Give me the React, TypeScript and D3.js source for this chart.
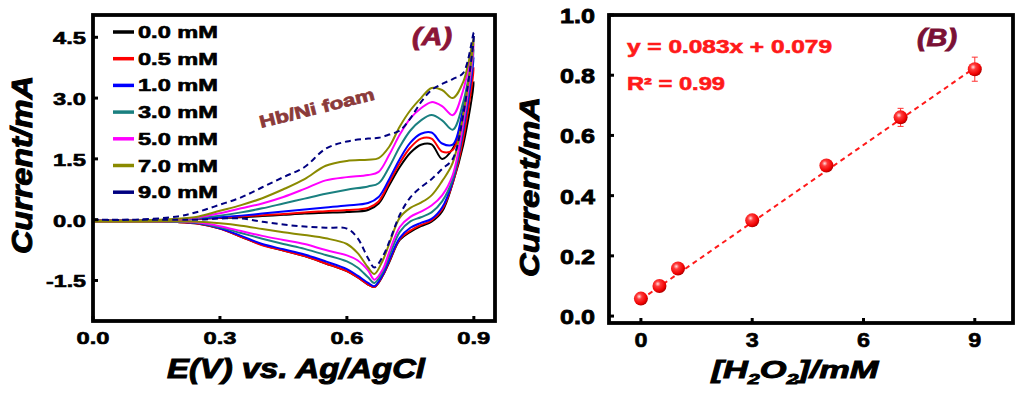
import React from "react";
import * as d3 from "d3";

// ---------- panel A: cyclic voltammograms of Hb/Ni foam ----------
// forward (anodic) sweep potentials and reverse (cathodic) sweep potentials, V
const fwdPotential = [0, 0.1, 0.2, 0.25, 0.3, 0.35, 0.4, 0.45, 0.5, 0.55, 0.6, 0.65, 0.675, 0.7, 0.725, 0.75, 0.775, 0.8, 0.825, 0.85, 0.875, 0.9];
const revPotential = [0.9, 0.875, 0.85, 0.825, 0.8, 0.775, 0.75, 0.725, 0.7, 0.685, 0.665, 0.65, 0.625, 0.6, 0.55, 0.5, 0.45, 0.4, 0.35, 0.3, 0.25, 0.2, 0.1, 0];

// currents (mA)
const fwd00 = [-0.02, -0.02, 0, 0.02, 0.04, 0.06, 0.09, 0.12, 0.15, 0.17, 0.19, 0.24, 0.4, 0.85, 1.3, 1.65, 1.85, 1.86, 1.5, 1.75, 2.45, 3.4];
const fwd05 = [-0.02, -0.02, 0, 0.02, 0.05, 0.08, 0.11, 0.14, 0.18, 0.21, 0.24, 0.29, 0.45, 0.92, 1.4, 1.78, 2.0, 2.0, 1.68, 1.72, 2.6, 3.75];
const fwd10 = [-0.02, -0.02, 0, 0.03, 0.06, 0.1, 0.15, 0.2, 0.25, 0.3, 0.35, 0.41, 0.56, 1.0, 1.5, 1.9, 2.12, 2.15, 1.88, 1.85, 2.75, 4.0];
const fwd30 = [-0.02, -0.02, 0, 0.04, 0.1, 0.18, 0.28, 0.4, 0.52, 0.64, 0.74, 0.82, 0.9, 1.3, 1.8, 2.2, 2.45, 2.58, 2.45, 2.22, 2.9, 4.2];
const fwd50 = [-0.02, -0.02, 0, 0.06, 0.16, 0.28, 0.4, 0.56, 0.76, 0.97, 1.05, 1.1, 1.18, 1.6, 2.1, 2.5, 2.75, 2.9, 2.8, 2.58, 3.2, 4.35];
const fwd70 = [-0.02, -0.02, 0.02, 0.08, 0.22, 0.36, 0.53, 0.75, 1.0, 1.33, 1.45, 1.48, 1.52, 1.8, 2.3, 2.7, 3.0, 3.25, 3.2, 3.0, 3.4, 4.5];
const fwd90 = [0, 0, 0.08, 0.2, 0.37, 0.55, 0.8, 1.05, 1.3, 1.75, 1.93, 2.0, 2.02, 2.1, 2.2, 2.5, 2.9, 3.2, 3.35, 3.47, 3.62, 4.62];

const rev00 = [3.4, 1.85, 0.9, 0.2, -0.05, -0.16, -0.3, -0.5, -1.05, -1.38, -1.66, -1.6, -1.42, -1.27, -1.08, -0.9, -0.76, -0.62, -0.42, -0.22, -0.1, -0.06, -0.05, -0.05];
const rev05 = [3.75, 2.0, 0.9, 0.25, -0.02, -0.13, -0.27, -0.48, -1.03, -1.37, -1.66, -1.6, -1.42, -1.27, -1.08, -0.9, -0.76, -0.63, -0.42, -0.22, -0.1, -0.06, -0.05, -0.05];
const rev10 = [4.0, 2.2, 0.95, 0.3, 0.02, -0.08, -0.2, -0.45, -1.0, -1.35, -1.64, -1.56, -1.38, -1.22, -1.03, -0.86, -0.73, -0.6, -0.4, -0.21, -0.09, -0.05, -0.05, -0.05];
const rev30 = [4.2, 2.3, 1.0, 0.45, 0.18, 0.06, -0.04, -0.3, -0.9, -1.28, -1.56, -1.42, -1.18, -1.03, -0.87, -0.72, -0.6, -0.47, -0.33, -0.19, -0.08, -0.05, -0.05, -0.05];
const rev50 = [4.35, 2.4, 1.1, 0.6, 0.35, 0.2, 0.07, -0.18, -0.8, -1.22, -1.48, -1.25, -1.0, -0.88, -0.75, -0.6, -0.5, -0.4, -0.28, -0.16, -0.07, -0.04, -0.05, -0.05];
const rev70 = [4.5, 2.6, 1.4, 0.95, 0.6, 0.42, 0.29, 0.05, -0.6, -1.0, -1.34, -1.18, -0.82, -0.6, -0.46, -0.38, -0.31, -0.23, -0.15, -0.09, -0.05, -0.04, -0.05, -0.05];
const rev90 = [4.62, 2.6, 1.5, 1.25, 1.0, 0.8, 0.55, 0.12, -0.55, -0.9, -1.18, -0.95, -0.45, -0.22, -0.2, -0.17, -0.12, -0.05, 0.03, 0.03, 0, 0, 0, 0];

const concLabels = ["0.0 mM", "0.5 mM", "1.0 mM", "3.0 mM", "5.0 mM", "7.0 mM", "9.0 mM"];
const cvColors = ["#000000", "#ff0000", "#0000ff", "#1a8080", "#ff00ff", "#8a8a00", "#000080"];

const cvXTicks = [0, 0.3, 0.6, 0.9];
const cvYTicks = [-1.5, 0, 1.5, 3.0, 4.5];

// ---------- panel B: calibration ----------
const h2o2Conc = [0, 0.5, 1, 3, 5, 7, 9];
const peakCurrent = [0.058, 0.1, 0.158, 0.318, 0.5, 0.66, 0.82];
const currentErr = [0.008, 0.008, 0.01, 0.01, 0.012, 0.03, 0.04];
const fitConc = [0, 9];
const fitCurrent = [0.055, 0.825];

const calXTicks = [0, 3, 6, 9];
const calYTicks = [0, 0.2, 0.4, 0.6, 0.8, 1.0];

const FONT = '"Liberation Sans", Arial, sans-serif';

export default function App() {
  const A = { left: 93, right: 495, top: 15, bottom: 321 };
  const B = { left: 609, right: 1013, top: 15, bottom: 323 };

  const xA = d3.scaleLinear().domain([0, 0.95]).range([A.left, A.right]);
  const yA = d3.scaleLinear().domain([-2.5, 5.05]).range([A.bottom, A.top]);
  const xB = d3.scaleLinear().domain([-0.86, 10.03]).range([B.left, B.right]);
  const yB = d3.scaleLinear().domain([-0.023, 1.0]).range([B.bottom, B.top]);

  const fwd = [fwd00, fwd05, fwd10, fwd30, fwd50, fwd70, fwd90];
  const rev = [rev00, rev05, rev10, rev30, rev50, rev70, rev90];

  // one closed loop per concentration: forward sweep then back
  const cvLine = d3.line<[number, number]>()
    .x(d => xA(d[0]))
    .y(d => yA(d[1]))
    .curve(d3.curveCatmullRom.alpha(0.5));

  const loops = concLabels.map((label, i) => {
    const pts: [number, number][] = fwdPotential.map((e, j) => [e, fwd[i][j]]);
    revPotential.slice(1).forEach((e, j) => pts.push([e, rev[i][j + 1]]));
    return { label, color: cvColors[i], d: cvLine(pts) || "", dashed: i === concLabels.length - 1 };
  });

  const fitLine = d3.line<number>()
    .x(d => xB(d))
    .y((d, i) => yB(fitCurrent[i]));

  const bold = { fontFamily: FONT, fontWeight: 700 } as const;
  // the source figure uses a very heavy face, thicken glyphs a bit
  const heavy = (c: string, w: number) => ({ stroke: c, strokeWidth: w, paintOrder: "stroke" as const });

  return (
    <svg width={1024} height={396} style={{ position: "absolute", left: 0, top: 0, background: "#fff" }}>
      <defs>
        <radialGradient id="ball" cx="38%" cy="35%" r="65%">
          <stop offset="0%" stopColor="#ffe0e0" />
          <stop offset="30%" stopColor="#ff3a3a" />
          <stop offset="80%" stopColor="#f00000" />
          <stop offset="100%" stopColor="#b00000" />
        </radialGradient>
      </defs>

      {/* ---------------- panel A ---------------- */}
      {loops.map(l => (
        <path key={l.label} d={l.d} fill="none" stroke={l.color} strokeWidth={2}
          strokeDasharray={l.dashed ? "6,4" : undefined} strokeLinejoin="round" />
      ))}

      <rect x={A.left} y={A.top} width={A.right - A.left} height={A.bottom - A.top}
        fill="none" stroke="#000" strokeWidth={3.8} />

      {cvXTicks.map(t => (
        <g key={"ax" + t}>
          <line x1={xA(t)} x2={xA(t)} y1={A.bottom} y2={A.bottom - 5} stroke="#000" strokeWidth={3} />
          <text x={xA(t)} y={343.5} textAnchor="middle" fontSize={17} textLength={33}
            lengthAdjust="spacingAndGlyphs" {...bold} {...heavy("#000", 0.6)}>{t.toFixed(1)}</text>
        </g>
      ))}
      {cvYTicks.map(t => (
        <g key={"ay" + t}>
          <line x1={A.left} x2={A.left + 5} y1={yA(t)} y2={yA(t)} stroke="#000" strokeWidth={3} />
          <text x={86} y={yA(t) + 7} textAnchor="end" fontSize={17} textLength={t < 0 ? 40 : 33}
            lengthAdjust="spacingAndGlyphs" {...bold} {...heavy("#000", 0.6)}>{t.toFixed(1)}</text>
        </g>
      ))}

      <text transform="translate(32,165) rotate(-90)" textAnchor="middle" fontSize={30} fontStyle="italic"
        textLength={178} lengthAdjust="spacingAndGlyphs" {...bold} {...heavy("#000", 1)}>Current/mA</text>
      <text x={296} y={378} textAnchor="middle" fontSize={28} fontStyle="italic"
        textLength={258} lengthAdjust="spacingAndGlyphs" {...bold} {...heavy("#000", 1)}>E(V) vs. Ag/AgCl</text>

      {/* legend */}
      {loops.map((l, i) => {
        const y = 32 + i * 26.7;
        return (
          <g key={"lg" + l.label}>
            <line x1={113} x2={134} y1={y} y2={y} stroke={l.color} strokeWidth={3.5} />
            <text x={138} y={y + 6} fontSize={16.5} textLength={80} lengthAdjust="spacingAndGlyphs"
              {...bold} {...heavy("#000", 0.6)}>{l.label}</text>
          </g>
        );
      })}

      <text transform="translate(261,128) rotate(-14)" fontSize={17} fill="#8b3a3a"
        textLength={118} lengthAdjust="spacingAndGlyphs" {...bold} {...heavy("#8b3a3a", 0.7)}>Hb/Ni foam</text>
      <text x={412} y={45} fontSize={23} fontStyle="italic" fill="#8b1538"
        textLength={40} lengthAdjust="spacingAndGlyphs" {...bold} {...heavy("#8b1538", 0.8)}>(A)</text>

      {/* ---------------- panel B ---------------- */}
      <path d={fitLine(fitConc) || ""} fill="none" stroke="#ff1a1a" strokeWidth={2} strokeDasharray="5,4" />

      {h2o2Conc.map((c, i) => (
        <g key={"pt" + c}>
          <line x1={xB(c)} x2={xB(c)} y1={yB(peakCurrent[i] - currentErr[i])} y2={yB(peakCurrent[i] + currentErr[i])}
            stroke="#ff3030" strokeWidth={1} />
          <line x1={xB(c) - 3} x2={xB(c) + 3} y1={yB(peakCurrent[i] + currentErr[i])} y2={yB(peakCurrent[i] + currentErr[i])}
            stroke="#ff3030" strokeWidth={1} />
          <line x1={xB(c) - 3} x2={xB(c) + 3} y1={yB(peakCurrent[i] - currentErr[i])} y2={yB(peakCurrent[i] - currentErr[i])}
            stroke="#ff3030" strokeWidth={1} />
          <circle cx={xB(c)} cy={yB(peakCurrent[i])} r={7} fill="url(#ball)" />
        </g>
      ))}

      <rect x={B.left} y={B.top} width={B.right - B.left} height={B.bottom - B.top}
        fill="none" stroke="#000" strokeWidth={3.8} />

      {calXTicks.map(t => (
        <g key={"bx" + t}>
          <line x1={xB(t)} x2={xB(t)} y1={B.bottom} y2={B.bottom - 5} stroke="#000" strokeWidth={3} />
          <text x={xB(t)} y={347} textAnchor="middle" fontSize={20} textLength={13}
            lengthAdjust="spacingAndGlyphs" {...bold} {...heavy("#000", 0.6)}>{t}</text>
        </g>
      ))}
      {calYTicks.map(t => (
        <g key={"by" + t}>
          <line x1={B.left} x2={B.left + 5} y1={yB(t)} y2={yB(t)} stroke="#000" strokeWidth={3} />
          <text x={595} y={yB(t) + 8} textAnchor="end" fontSize={21} textLength={35}
            lengthAdjust="spacingAndGlyphs" {...bold} {...heavy("#000", 0.8)}>{t.toFixed(1)}</text>
        </g>
      ))}

      <text transform="translate(539,187) rotate(-90)" textAnchor="middle" fontSize={28} fontStyle="italic"
        textLength={180} lengthAdjust="spacingAndGlyphs" {...bold} {...heavy("#000", 1)}>Current/mA</text>
      <text x={795} y={378} textAnchor="middle" fontSize={24} fontStyle="italic"
        textLength={167} lengthAdjust="spacingAndGlyphs" {...bold} {...heavy("#000", 0.9)}>
        [H<tspan fontSize={15} dy={6}>2</tspan><tspan dy={-6}>O</tspan><tspan fontSize={15} dy={6}>2</tspan><tspan dy={-6}>]/mM</tspan>
      </text>

      <text x={627} y={53} fontSize={18} fill="#ff1a1a" textLength={205} lengthAdjust="spacingAndGlyphs"
        {...bold} {...heavy("#ff1a1a", 0.6)}>
        y = 0.083x + 0.079
      </text>
      <text x={627} y={90} fontSize={18} fill="#ff1a1a" textLength={98} lengthAdjust="spacingAndGlyphs"
        {...bold} {...heavy("#ff1a1a", 0.6)}>
        R² = 0.99
      </text>
      <text x={917} y={46} fontSize={23} fontStyle="italic" fill="#7a1035"
        textLength={40} lengthAdjust="spacingAndGlyphs" {...bold} {...heavy("#7a1035", 0.8)}>(B)</text>
    </svg>
  );
}
